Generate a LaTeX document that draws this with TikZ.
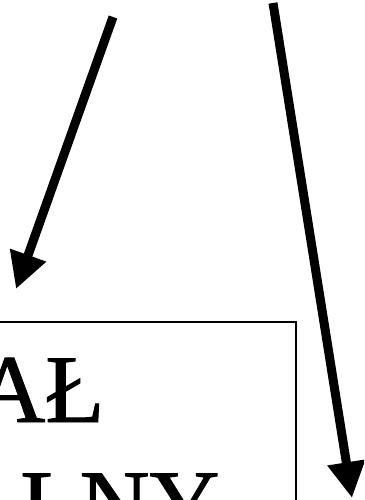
\documentclass[tikz,border=0pt]{standalone}
\usepackage{fontspec}
\setmainfont{Liberation Serif}
\newfontfamily\heavyserif{Liberation Serif}[FakeBold=1]
\usetikzlibrary{arrows.meta}
\begin{document}
\begin{tikzpicture}[x=1pt,y=-1pt,
  bigarrow/.style={line width=9pt,-{Triangle[length=36pt,width=36pt]}},
  boxline/.style={draw,line width=2pt},
  bigtext/.style={font=\heavyserif\fontsize{97}{115}\selectfont, inner sep=0pt, anchor=base west}]
\useasboundingbox (0,0) rectangle (364,500);
\clip (0,0) rectangle (364,500);
\node[boxline, rectangle, minimum width=340pt, minimum height=300pt, anchor=north east, inner sep=0pt] (box) at (297,320.5) {};
\node[bigtext] (t1) at (-25,422) {AŁ};
\node[bigtext] (t2) at (20,537) {LNY};
\coordinate (a1s) at (113,17);
\coordinate (a1e) at (16,289);
\coordinate (a2s) at (273,3);
\coordinate (a2e) at (352,498);
\draw[bigarrow] (a1s) -- (a1e);
\draw[bigarrow] (a2s) -- (a2e);
\end{tikzpicture}
\end{document}
